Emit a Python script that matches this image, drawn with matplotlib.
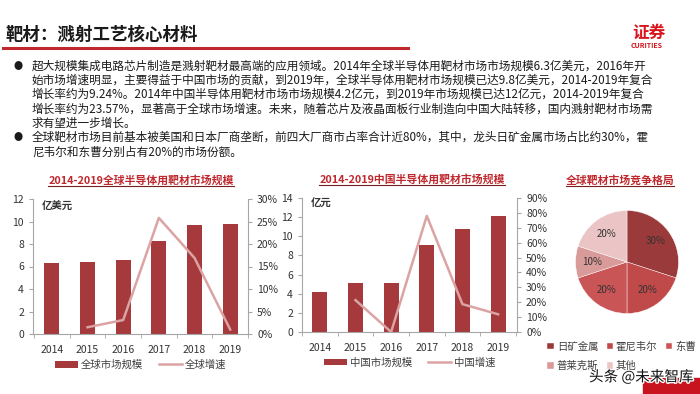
import matplotlib
matplotlib.use("Agg")
import matplotlib.pyplot as plt
from matplotlib.lines import Line2D
from matplotlib.patches import Rectangle
import matplotlib.patheffects as pe
import numpy as np

plt.rcParams['font.family'] = ['Noto Sans CJK SC', 'DejaVu Sans']

years = ["2014", "2015", "2016", "2017", "2018", "2019"]
global_size = [6.3, 6.4, 6.6, 8.3, 9.7, 9.8]
global_growth = [None, 0.015, 0.031, 0.258, 0.169, 0.010]
china_size = [4.2, 5.1, 5.1, 9.1, 10.8, 12.1]
china_growth = [None, 0.214, 0.0, 0.78, 0.187, 0.119]
vendors = ["日矿金属", "霍尼韦尔", "东曹", "普莱克斯", "其他"]
shares = [30, 20, 20, 10, 20]

bullet_lines = [
    "超大规模集成电路芯片制造是溅射靶材最高端的应用领域。2014年全球半导体用靶材市场市场规模6.3亿美元，2016年开",
    "始市场增速明显，主要得益于中国市场的贡献，到2019年，全球半导体用靶材市场规模已达9.8亿美元，2014-2019年复合",
    "增长率约为9.24%。2014年中国半导体用靶材市场市场规模4.2亿元，到2019年市场规模已达12亿元，2014-2019年复合",
    "增长率约为23.57%，显著高于全球市场增速。未来，随着芯片及液晶面板行业制造向中国大陆转移，国内溅射靶材市场需",
    "求有望进一步增长。",
    "全球靶材市场目前基本被美国和日本厂商垄断，前四大厂商市占率合计近80%，其中，龙头日矿金属市场占比约30%，霍",
    "尼韦尔和东曹分别占有20%的市场份额。",
]
bullet_starts = [0, 5]

BAR = "#a5393b"
LINE = "#dba3a3"
RED = "#c0282d"
GRAY = "#a6a6a6"
pie_colors = ["#9b3a3a", "#c0494a", "#c95557", "#d99a9a", "#ebc5c5"]

W, H = 700, 394
fig = plt.figure(figsize=(7, 3.94), dpi=100)


def fx(px):
    return px / W


def fy(py):
    return 1 - py / H


# header
fig.text(fx(5), fy(35), "靶材：溅射工艺核心材料", fontsize=12.6, fontweight="bold",
         color="#1a1a1a", va="center")
fig.add_artist(Line2D([fx(3), fx(408)], [fy(48), fy(48)], color=RED, lw=2.2))
fig.text(fx(632), fy(33), "证券", fontsize=12, fontweight="bold", color="#d9141c", va="center")
fig.text(fx(631), fy(45), "CURITIES", fontsize=5, fontweight="bold", color="#d9141c", va="center")

# bullets
for i, line in enumerate(bullet_lines):
    y = 66 + i * 14.3
    fig.text(fx(32), fy(y), line, fontsize=8.4, color="#1a1a1a", va="center")
    if i in bullet_starts:
        fig.text(fx(14), fy(y), "●", fontsize=6.5, color="#1a1a1a", va="center")


def title_underlined(x, y, s):
    t = fig.text(fx(x), fy(y), s, fontsize=7.8, fontweight="bold", color=RED,
                 ha="center", va="center")
    fig.canvas.draw()
    bb = t.get_window_extent()
    fig.add_artist(Line2D([bb.x0 / W, bb.x1 / W], [(bb.y0 - 1) / H, (bb.y0 - 1) / H],
                          color="#7a1f1f", lw=0.8))


def combo(left, right, bottom, top, xlo, xhi, sizes, growth, ymax, ystep,
          gmax, gstep, unit, names):
    ax = fig.add_axes([fx(left), fy(bottom), fx(right - left), (bottom - top) / H])
    x = np.arange(len(years))
    ax.bar(x, sizes, width=0.42, color=BAR, label=names[0], zorder=2)
    ax.set_xlim(xlo, xhi)
    ax.set_ylim(0, ymax)
    ax.set_yticks(np.arange(0, ymax + 0.01, ystep))
    ax.set_xticks(x)
    ax.set_xticklabels(years)
    ax.set_xticks(np.arange(-0.5, len(years)), minor=True)
    ax.tick_params(axis="x", which="major", length=0, pad=8)
    ax.tick_params(axis="x", which="minor", length=3, color=GRAY)
    ax.tick_params(axis="y", length=3, color=GRAY)
    ax.tick_params(labelsize=7.5, labelcolor="#333333")
    for s in ["top", "right"]:
        ax.spines[s].set_visible(False)
    for s in ["left", "bottom"]:
        ax.spines[s].set_color(GRAY)
    ax.text(0.04, 0.99, unit, transform=ax.transAxes, fontsize=7.5, fontweight="bold",
            color="#333333", va="top")
    ax2 = ax.twinx()
    gx = [i for i, g in enumerate(growth) if g is not None]
    gy = [g for g in growth if g is not None]
    ax2.plot(gx, gy, color=LINE, lw=1.8, label=names[1])
    ax2.set_ylim(0, gmax)
    ax2.set_yticks(np.arange(0, gmax + 1e-6, gstep))
    ax2.set_yticklabels([f"{v * 100:.0f}%" for v in np.arange(0, gmax + 1e-6, gstep)])
    ax2.tick_params(axis="y", length=3, color=GRAY, labelsize=7.5, labelcolor="#333333")
    for s in ["top", "left", "bottom"]:
        ax2.spines[s].set_visible(False)
    ax2.spines["right"].set_color(GRAY)
    h1, l1 = ax.get_legend_handles_labels()
    h2, l2 = ax2.get_legend_handles_labels()
    ax.legend(h1 + h2, l1 + l2, ncol=2, loc="upper center", bbox_to_anchor=(0.5, -0.12),
              frameon=False, fontsize=7.5, labelcolor="#404040", handlelength=2.2,
              handleheight=0.6, columnspacing=1.5, handletextpad=0.3)
    return ax


combo(33, 248, 334, 199, -0.53, 5.5, global_size, global_growth, 12, 2, 0.30, 0.05,
      "亿美元", ["全球市场规模", "全球增速"])
combo(302, 517, 332, 198, -0.47, 5.53, china_size, china_growth, 14, 2, 0.90, 0.10,
      "亿元", ["中国市场规模", "中国增速"])

# pie
pax = fig.add_axes([fx(575), fy(314), fx(104), 104 / H])
wedges, _, autotexts = pax.pie(shares, colors=pie_colors, startangle=90, counterclock=False,
                               autopct="%d%%", pctdistance=0.68,
                               wedgeprops=dict(edgecolor="white", linewidth=0.3),
                               textprops=dict(fontsize=7, color="#333333"))
pax.set_aspect("equal")
pax.set_xlim(-1.01, 1.01)
pax.set_ylim(-1.01, 1.01)
order = [0, 3, 1, 4, 2]
fig.legend([wedges[i] for i in order], [vendors[i] for i in order], ncol=3,
           loc="upper left", bbox_to_anchor=(fx(538), fy(332)), frameon=False,
           fontsize=7.5, labelcolor="#404040", handlelength=0.6, handleheight=0.6,
           handletextpad=0.3, columnspacing=0.8, labelspacing=0.9)

title_underlined(141, 180, "2014-2019全球半导体用靶材市场规模")
title_underlined(412, 179, "2014-2019中国半导体用靶材市场规模")
title_underlined(620, 180, "全球靶材市场竞争格局")

# watermark
fig.add_artist(Rectangle((fx(643), 0), fx(57), 16 / H, color="#c8141e", transform=fig.transFigure))
fig.text(fx(589), fy(377), "头条 @未来智库", fontsize=10.5, color="#111111", va="center",
         path_effects=[pe.withStroke(linewidth=2, foreground="white")])

fig.savefig("out.png", dpi=100)
